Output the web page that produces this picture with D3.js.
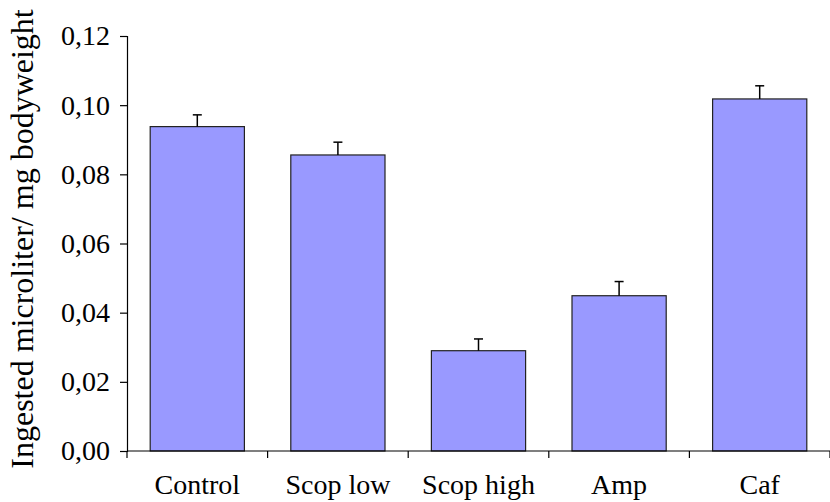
<!DOCTYPE html>
<html>
<head>
<meta charset="utf-8">
<script src="https://cdn.jsdelivr.net/npm/d3@7"></script>
<style>
body { margin: 0; background: #fff; }
</style>
</head>
<body>
<svg class="chart"></svg>
<script>
var width = 830;
var height = 502;

var margin = { top: 36, right: 0, bottom: 51, left: 127 };
var serif = "Liberation Serif";

// values
var categories = ["Control", "Scop low", "Scop high", "Amp", "Caf"];
var means = [0.0938, 0.0856, 0.0290, 0.0449, 0.1018];
var errors = [0.0034, 0.0037, 0.0034, 0.0041, 0.0038];
var yTicks = [0, 0.02, 0.04, 0.06, 0.08, 0.10, 0.12];

var chart = d3.select(".chart")
    .attr("width", width)
    .attr("height", height);

var x = d3.scaleBand()
    .domain(categories)
    .range([margin.left, width - margin.right])
    .paddingInner(0.33)
    .paddingOuter(0.165);

var y = d3.scaleLinear()
    .domain([0, 0.12])
    .range([height - margin.bottom, margin.top]);

var fmt = function(d) { return d3.format(".2f")(d).replace(".", ","); };

// bars
chart.append("g").selectAll("rect")
    .data(means)
    .enter()
    .append("rect")
    .attr("x", function(d, i) { return x(categories[i]); })
    .attr("y", function(d) { return y(d); })
    .attr("width", x.bandwidth())
    .attr("height", function(d) { return y(0) - y(d); })
    .attr("fill", "#9999ff")
    .attr("stroke", "#222")
    .attr("stroke-width", 1.2);

// error bars (upper only)
var eb = chart.append("g").attr("stroke", "#000").attr("stroke-width", 1.5);
means.forEach(function(d, i) {
    var cx = x(categories[i]) + x.bandwidth() / 2;
    eb.append("line")
        .attr("x1", cx).attr("x2", cx)
        .attr("y1", y(d)).attr("y2", y(d + errors[i]));
    eb.append("line")
        .attr("x1", cx - 4.5).attr("x2", cx + 4.5)
        .attr("y1", y(d + errors[i])).attr("y2", y(d + errors[i]));
});

// y axis
var yAxis = chart.append("g")
    .attr("transform", "translate(" + margin.left + ",0)")
    .call(d3.axisLeft(y).tickValues(yTicks).tickFormat(fmt).tickSize(7).tickPadding(10))
    .attr("font-family", serif)
    .attr("font-size", 28);
yAxis.selectAll("text").attr("fill", "#000");
yAxis.selectAll("line, path").attr("stroke", "#000").attr("stroke-width", 1.2);

// x axis: ticks between categories
var xAxis = chart.append("g")
    .attr("transform", "translate(0," + y(0) + ")")
    .attr("font-family", serif)
    .attr("font-size", 28);
xAxis.append("line")
    .attr("x1", margin.left).attr("x2", width)
    .attr("stroke", "#000").attr("stroke-width", 1.2);
var step = x.step();
xAxis.selectAll("line.tick")
    .data(d3.range(categories.length + 1))
    .enter()
    .append("line")
    .attr("class", "tick")
    .attr("x1", function(i) { return margin.left + i * step; })
    .attr("x2", function(i) { return margin.left + i * step; })
    .attr("y1", 0).attr("y2", 7)
    .attr("stroke", "#000").attr("stroke-width", 1.2);
xAxis.selectAll("text")
    .data(categories)
    .enter()
    .append("text")
    .attr("x", function(d) { return x(d) + x.bandwidth() / 2; })
    .attr("y", 43)
    .attr("text-anchor", "middle")
    .text(function(d) { return d; });

// y title
chart.append("text")
    .attr("transform", "translate(33," + 239 + ") rotate(-90)")
    .attr("text-anchor", "middle")
    .attr("font-family", serif)
    .attr("font-size", 32)
    .text("Ingested microliter/ mg bodyweight");
</script>
</body>
</html>
